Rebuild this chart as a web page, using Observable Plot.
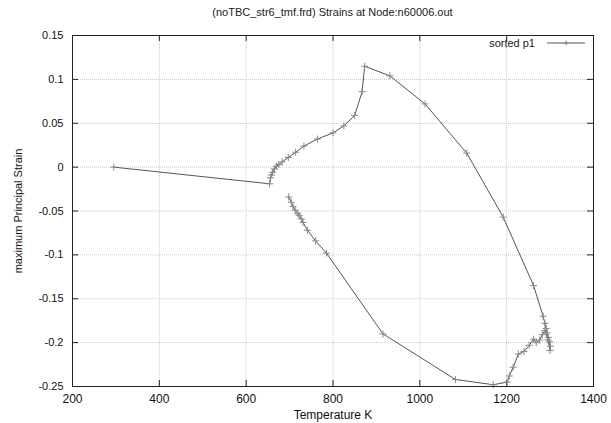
<!DOCTYPE html>
<html>
<head>
<meta charset="utf-8">
<script src="https://cdn.jsdelivr.net/npm/d3@7"></script>
<script src="https://cdn.jsdelivr.net/npm/@observablehq/plot@0.6"></script>
<style>
  body { margin: 0; background: #fff; font-family: "Liberation Sans", Arial, sans-serif; }
  #wrap { position: relative; width: 611px; }
  #title { height: 22px; line-height: 24px; font-size: 11px; text-align: center; padding-left: 72px; padding-right: 18px; box-sizing: border-box; color: #222; }
  #legend { position: absolute; top: 37px; right: 22px; font-size: 11px; color: #222; display: flex; align-items: center; }
</style>
</head>
<body>
<div id="wrap">
  <div id="title">(noTBC_str6_tmf.frd) Strains at Node:n60006.out</div>
  <div id="chart"></div>
  <div id="legend"><span>sorted p1</span><svg width="46" height="12" style="margin-left:8px"><line x1="4" x2="42" y1="6" y2="6" stroke="#555" stroke-width="1"/><path d="M20.5,6h5M23,3.5v5" stroke="#888" stroke-width="1"/></svg></div>
</div>
<script>
const temperature = [295, 654, 656, 658, 661, 665, 670, 675, 683, 697, 714, 733, 764, 800, 825, 850, 867, 873,
  931, 1012, 1108, 1192, 1262, 1284, 1288, 1291, 1293, 1296, 1299, 1301, 1300, 1295, 1288, 1282, 1276, 1268, 1262, 1252, 1240, 1227, 1215, 1206, 1201, 1169, 1082, 915,
  785, 760, 741, 731, 727, 722, 719, 713, 708, 704, 698];
const strain = [0.000, -0.019, -0.012, -0.009, -0.006, -0.002, 0.001, 0.003, 0.006, 0.011, 0.017, 0.024, 0.032, 0.039, 0.047, 0.059, 0.086, 0.115,
  0.104, 0.072, 0.016, -0.057, -0.135, -0.170, -0.178, -0.184, -0.189, -0.194, -0.199, -0.204, -0.209, -0.197, -0.186, -0.191, -0.197, -0.200, -0.196, -0.203, -0.210, -0.213, -0.228, -0.238, -0.245, -0.248, -0.242, -0.190,
  -0.098, -0.084, -0.072, -0.063, -0.059, -0.055, -0.053, -0.049, -0.045, -0.040, -0.034];
const xTicks = [200, 400, 600, 800, 1000, 1200, 1400];
const yTicks = [-0.25, -0.2, -0.15, -0.1, -0.05, 0, 0.05, 0.1, 0.15];

const data = temperature.map((t, i) => ({t, s: strain[i]}));
const fmtY = d => String(+d.toFixed(2));
const fmtX = d => String(d);
const H = 401;

const chart = Plot.plot({
  width: 611,
  height: H,
  marginLeft: 72,
  marginRight: 18,
  marginTop: 13,
  marginBottom: 37,
  style: {fontFamily: "'Liberation Sans', Arial, sans-serif", fontSize: "11px", color: "#111", background: "#fff"},
  x: {domain: [200, 1400]},
  y: {domain: [-0.25, 0.15]},
  marks: [
    Plot.gridX(xTicks, {stroke: "#c8c8c8", strokeOpacity: 1, strokeDasharray: "1,1"}),
    Plot.gridY(yTicks, {stroke: "#c8c8c8", strokeOpacity: 1, strokeDasharray: "1,1"}),
    Plot.tickX(xTicks, {x: d => d, insetTop: H - 13 - 37 - 6, stroke: "#222"}),
    Plot.tickX(xTicks, {x: d => d, insetBottom: H - 13 - 37 - 6, stroke: "#222"}),
    Plot.tickY(yTicks, {y: d => d, insetRight: 611 - 72 - 18 - 6, stroke: "#222"}),
    Plot.tickY(yTicks, {y: d => d, insetLeft: 611 - 72 - 18 - 6, stroke: "#222"}),
    Plot.line(data, {x: "t", y: "s", stroke: "#555", strokeWidth: 1}),
    Plot.dot(data, {x: "t", y: "s", symbol: "plus", r: 2.4, stroke: "#888", strokeWidth: 1}),
    Plot.axisX(xTicks, {tickSize: 0, tickPadding: 8, tickFormat: fmtX, label: "Temperature K", labelAnchor: "center", labelOffset: 32, labelArrow: "none", fontSize: 12}),
    Plot.axisY(yTicks, {tickSize: 0, tickPadding: 9, tickFormat: fmtY, label: "maximum Principal Strain", labelAnchor: "center", labelOffset: 58, labelArrow: "none", fontSize: 11}),
    Plot.frame({stroke: "#222"})
  ]
});
document.getElementById("chart").appendChild(chart);
</script>
</body>
</html>
